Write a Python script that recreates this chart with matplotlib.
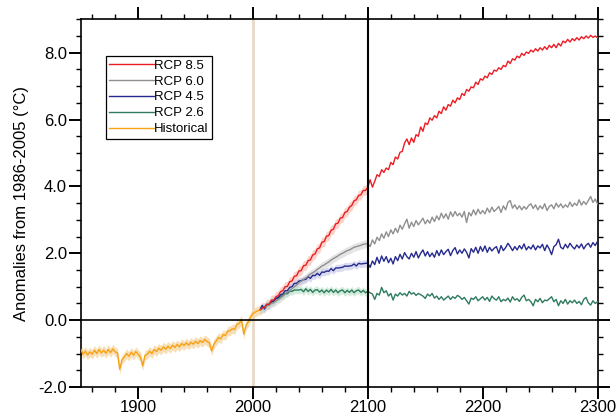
import numpy as np
import matplotlib
matplotlib.use('Agg')
import matplotlib.pyplot as plt
from matplotlib.ticker import MultipleLocator, FormatStrFormatter

# historical run, every 2 years 1850..2006
hist_years = np.arange(1850, 2007, 2)
hist_vals = [
    -0.86, -1.02, -0.93, -1.04, -0.95, -1.02, -0.90, -1.00, -0.88, -0.98,
    -0.90, -0.99, -0.88, -0.97, -0.86, -0.95, -0.98, -1.47, -1.18, -1.10,
    -1.00, -1.08, -0.96, -1.05, -0.94, -1.02, -1.10, -1.37, -1.05, -1.02,
    -0.93, -1.00, -0.88, -0.94, -0.84, -0.90, -0.80, -0.87, -0.78, -0.85,
    -0.75, -0.82, -0.73, -0.80, -0.70, -0.76, -0.68, -0.75, -0.66, -0.72,
    -0.63, -0.70, -0.61, -0.67, -0.58, -0.64, -0.68, -0.92, -0.72, -0.62,
    -0.52, -0.56, -0.43, -0.46, -0.33, -0.32, -0.26, -0.28, -0.13, -0.10,
    0.00, -0.42, -0.15, -0.05, 0.10, 0.20, 0.24, 0.28, 0.30,
]

# scenarios, every 2 years 2006..2300
rcp_years = np.arange(2006, 2301, 2)

rcp85 = [
    0.30, 0.36, 0.38, 0.48, 0.47, 0.60, 0.60, 0.70, 0.73, 0.85,
    0.88, 1.00, 1.01, 1.15, 1.17, 1.31, 1.33, 1.47, 1.48, 1.63,
    1.64, 1.78, 1.80, 1.95, 1.98, 2.13, 2.16, 2.33, 2.35, 2.51,
    2.53, 2.69, 2.72, 2.88, 2.90, 3.05, 3.07, 3.22, 3.25, 3.38,
    3.43, 3.57, 3.60, 3.73, 3.75, 3.88, 3.88, 3.98,
    4.20, 3.98, 4.15, 4.35, 4.30, 4.50, 4.42, 4.55, 4.50, 4.72,
    4.65, 4.88, 4.82, 5.02, 5.05, 5.30, 5.42, 5.25, 5.45, 5.32,
    5.55, 5.50, 5.78, 5.65, 5.90, 5.85, 6.05, 5.98, 6.12, 6.05,
    6.25, 6.18, 6.38, 6.28, 6.45, 6.40, 6.58, 6.50, 6.65, 6.60,
    6.78, 6.72, 6.90, 6.85, 6.98, 6.95, 7.12, 7.05, 7.22, 7.18,
    7.30, 7.25, 7.40, 7.35, 7.48, 7.45, 7.55, 7.50, 7.62, 7.58,
    7.75, 7.68, 7.82, 7.78, 7.90, 7.85, 7.98, 7.92, 8.02, 7.98,
    8.08, 8.02, 8.12, 8.05, 8.15, 8.08, 8.18, 8.10, 8.22, 8.15,
    8.25, 8.15, 8.28, 8.20, 8.35, 8.30, 8.40, 8.32, 8.42, 8.36,
    8.45, 8.38, 8.48, 8.42, 8.50, 8.44, 8.52, 8.46, 8.50, 8.45,
]

rcp60 = [
    0.30, 0.34, 0.38, 0.42, 0.45, 0.50, 0.52, 0.57, 0.62, 0.66,
    0.72, 0.78, 0.85, 0.88, 0.95, 1.00, 1.05, 1.12, 1.16, 1.22,
    1.26, 1.32, 1.38, 1.42, 1.46, 1.52, 1.56, 1.62, 1.65, 1.70,
    1.74, 1.80, 1.84, 1.88, 1.92, 1.97, 2.00, 2.04, 2.08, 2.10,
    2.14, 2.18, 2.20, 2.22, 2.24, 2.27, 2.28, 2.30,
    2.20, 2.40, 2.28, 2.48, 2.38, 2.58, 2.45, 2.64, 2.50, 2.70,
    2.58, 2.75, 2.62, 2.84, 2.72, 2.88, 3.02, 2.75, 2.93, 2.80,
    2.98, 2.85, 2.95, 3.05, 2.88, 3.00, 2.90, 3.08, 2.95, 3.12,
    3.00, 3.20, 3.05, 3.18, 3.02, 3.24, 3.10, 3.25, 3.12, 3.20,
    3.08, 3.25, 2.92, 3.22, 3.12, 3.30, 3.15, 3.32, 3.18, 3.28,
    3.18, 3.35, 3.22, 3.38, 3.25, 3.32, 3.40, 3.22, 3.42, 3.30,
    3.52, 3.58, 3.35, 3.45, 3.32, 3.42, 3.30, 3.40, 3.32, 3.43,
    3.48, 3.34, 3.45, 3.30, 3.42, 3.33, 3.48, 3.28, 3.40, 3.45,
    3.33, 3.50, 3.38, 3.48, 3.36, 3.45, 3.38, 3.53, 3.40, 3.50,
    3.43, 3.60, 3.44, 3.55, 3.46, 3.58, 3.70, 3.52, 3.62, 3.48,
]

rcp45 = [
    0.30, 0.44, 0.33, 0.44, 0.46, 0.54, 0.56, 0.65, 0.68, 0.76,
    0.78, 0.88, 0.88, 0.98, 1.00, 1.10, 1.10, 1.17, 1.18, 1.21,
    1.22, 1.30, 1.25, 1.34, 1.33, 1.40, 1.34, 1.44, 1.43, 1.47,
    1.46, 1.54, 1.48, 1.56, 1.56, 1.57, 1.58, 1.62, 1.61, 1.62,
    1.63, 1.68, 1.62, 1.70, 1.68, 1.69, 1.70, 1.70,
    1.58, 1.77, 1.66, 1.88, 1.70, 1.92, 1.76, 1.90, 1.72, 1.85,
    1.68, 1.90, 1.78, 1.97, 1.83, 2.02, 1.90, 1.83, 2.00, 1.88,
    2.05, 1.86, 2.00, 2.10, 1.92, 2.05, 1.90, 2.01, 1.88, 2.08,
    1.93, 2.10, 1.96, 2.05, 2.12, 1.93, 2.08, 2.17, 1.98, 2.10,
    2.00, 2.13, 2.03, 1.86, 2.14, 2.03, 2.18, 2.00, 2.20, 2.06,
    2.22, 2.03, 2.18, 2.07, 2.15, 2.20, 2.00, 2.23, 2.08, 2.17,
    2.30, 2.20, 2.08, 2.20, 2.10, 2.23, 2.13, 2.28, 2.10, 2.20,
    2.13, 2.25, 2.10, 2.22, 2.16, 2.27, 2.08, 2.25, 2.13, 1.96,
    2.20, 2.26, 2.42, 2.18, 2.13, 2.27, 2.16, 2.30, 2.20, 2.13,
    2.25, 2.16, 2.28, 2.13, 2.24, 2.30, 2.18, 2.32, 2.23, 2.36,
]

rcp26 = [
    0.30, 0.37, 0.39, 0.46, 0.48, 0.56, 0.57, 0.64, 0.65, 0.72,
    0.73, 0.80, 0.79, 0.87, 0.86, 0.90, 0.90, 0.90, 0.92, 0.85,
    0.94, 0.86, 0.92, 0.83, 0.90, 0.91, 0.84, 0.90, 0.82, 0.90,
    0.84, 0.92, 0.83, 0.90, 0.82, 0.88, 0.90, 0.82, 0.89, 0.83,
    0.90, 0.82, 0.88, 0.90, 0.83, 0.89, 0.82, 0.86,
    0.82, 0.78, 0.62, 0.80, 0.75, 0.98, 0.82, 0.88, 0.72, 0.80,
    0.60, 0.78, 0.72, 0.82, 0.75, 0.80, 0.72, 0.86, 0.78, 0.82,
    0.74, 0.80, 0.76, 0.72, 0.65, 0.78, 0.72, 0.80, 0.66, 0.72,
    0.62, 0.70, 0.60, 0.66, 0.72, 0.62, 0.70, 0.65, 0.74, 0.70,
    0.62, 0.68, 0.58, 0.48, 0.66, 0.62, 0.70, 0.58, 0.64, 0.70,
    0.60, 0.68, 0.56, 0.72, 0.64, 0.60, 0.70, 0.55, 0.62, 0.58,
    0.66, 0.54, 0.70, 0.60, 0.64, 0.56, 0.68, 0.75, 0.58, 0.62,
    0.55, 0.43, 0.62, 0.55, 0.65, 0.52, 0.60, 0.58, 0.64, 0.70,
    0.55, 0.62, 0.43, 0.58, 0.50, 0.62, 0.48, 0.58, 0.52, 0.60,
    0.50, 0.56, 0.46, 0.62, 0.68, 0.52, 0.45, 0.58, 0.50, 0.55,
]

labels = ['RCP 8.5', 'RCP 6.0', 'RCP 4.5', 'RCP 2.6', 'Historical']
# model spread (half width of the shading), read by eye
spread = [0.15, 0.12, 0.11, 0.11, 0.14]
band_end = 2100


def main():
    plt.rcParams['font.family'] = ['Liberation Sans', 'DejaVu Sans']

    fig = plt.figure(figsize=(6.16, 4.15), dpi=100)
    ax = fig.add_axes([0.131, 0.0675, 0.839, 0.886])

    series = [rcp85, rcp60, rcp45, rcp26]
    colors = ['#ec1c24', '#8f8f8f', '#262a8e', '#2e7b5e']
    bands = ['#f7b8a8', '#d4d4d4', '#c4c4e6', '#b8e0c8']

    # shading up to 2100
    inside = rcp_years <= band_end
    for vals, bc, sp in zip(series, bands, spread[:4]):
        v = np.array(vals)
        ax.fill_between(rcp_years[inside], v[inside] - sp, v[inside] + sp,
                        color=bc, alpha=0.6, lw=0, zorder=1)
    hv = np.array(hist_vals)
    ax.fill_between(hist_years, hv - spread[4], hv + spread[4],
                    color='#f6d8a6', alpha=0.8, lw=0, zorder=1)

    ax.axvline(2000, color='#e8d8c6', lw=2, zorder=0.5)
    ax.axvline(2100, color='black', lw=1.5, zorder=4)
    ax.axhline(0, color='black', lw=1.2, zorder=4)

    handles = []
    for vals, c, lab in zip(series[::-1], colors[::-1], labels[3::-1]):
        h, = ax.plot(rcp_years, vals, color=c, lw=1.0, label=lab, zorder=3)
        handles.append(h)
    handles = handles[::-1]
    h, = ax.plot(hist_years, hist_vals, color='#f7a114', lw=1.0,
                 label=labels[4], zorder=3)
    handles.append(h)

    leg = ax.legend(handles=handles, loc='upper left',
                    bbox_to_anchor=(0.049, 0.90), borderaxespad=0,
                    fontsize=9.5, handlelength=3.4, handletextpad=0,
                    labelspacing=0.28, borderpad=0.25, fancybox=False,
                    framealpha=1)
    leg.get_frame().set_edgecolor('black')
    leg.get_frame().set_linewidth(0.9)

    ax.set_xlim(1850, 2300)
    ax.set_ylim(-2, 9)
    ax.xaxis.set_major_locator(MultipleLocator(100))
    ax.xaxis.set_minor_locator(MultipleLocator(20))
    ax.yaxis.set_major_locator(MultipleLocator(2))
    ax.yaxis.set_minor_locator(MultipleLocator(0.5))
    ax.yaxis.set_major_formatter(FormatStrFormatter('%.1f'))

    ax.tick_params(which='both', direction='out', top=True, right=True,
                   labelsize=12, width=1.0)
    ax.tick_params(which='major', length=8.4, width=1.4)
    ax.tick_params(which='minor', length=3.8)
    ax.tick_params(axis='x', pad=1)
    ax.tick_params(axis='y', pad=1.5)
    for s in ax.spines.values():
        s.set_linewidth(1.2)

    ax.set_ylabel('Anomalies from 1986-2005 (°C)', fontsize=12, labelpad=7)

    fig.savefig('out.png', dpi=100)


if __name__ == '__main__':
    main()
